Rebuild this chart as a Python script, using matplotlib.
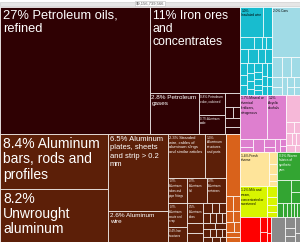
import matplotlib
matplotlib.use("Agg")
import matplotlib.pyplot as plt
from matplotlib.patches import Rectangle
from matplotlib.font_manager import FontProperties

plt.rcParams['font.family'] = 'Liberation Sans'

total_exports = "$9,156,739,566"

# sector colours
MAROON = '#2f0103'
BROWN = '#5c1f08'
ORANGE = '#d9621b'
CYAN = '#18bccf'
LIGHTBLUE = '#a0dbe6'
MAGENTA = '#de7fcf'
PINK = '#f6b8d8'
TAN = '#fee49a'
LIME = '#d8f500'
GREEN = '#33a532'
RED = '#fe0000'
GRAY = '#8a8a8a'

# shares of total exports in %
# ('h', [...]) = children left to right, ('v', [...]) = top to bottom
# leaf = share, or (share, product name)
minerals = ('h', [
    (27, "Petroleum oils, refined"),
    ('v', [
        (11, "Iron ores and concentrates"),
        ('h', [
            (2.8, "Petroleum gases"),
            ('v', [(0.8, "Petroleum coke, calcined"), (0.7, "Aluminum oxide")]),
            ('v', [0.3, ('h', [0.12, 0.1]), 0.2, 0.15]),
        ]),
    ]),
])

metals = ('h', [
    ('v', [(8.4, "Aluminum bars, rods and profiles"), (8.2, "Unwrought aluminum")]),
    ('v', [(6.5, "Aluminum plates, sheets and strip > 0.2 mm"), (2.6, "Aluminum wire")]),
    ('v', [
        ('h', [(2.3, "Stranded wire, cables of aluminum slings and similar articles"),
               (1.3, "Aluminum structures and parts")]),
        ('h', [(0.7, "Aluminum tubes and pipe fittings"), (0.7, "Aluminum foil"),
               (0.7, "Aluminum containers")]),
        ('h', [
            ('v', [(0.65, "Aluminum waste and scrap"), (0.4, "Iron structures")]),
            ('v', [(0.45, "Aluminum tubes"), 0.25, 0.2]),
            ('v', [('h', [0.12, 0.1, 0.1]), ('h', [0.1, 0.08, 0.08, 0.06]),
                   ('h', [0.1, 0.09]), ('h', [0.08, 0.07, 0.06, 0.05]),
                   ('h', [0.06, 0.05, 0.04])]),
        ]),
    ]),
])

other = ('v', [1.2, ('h', [0.15, 0.15]), ('h', [0.12, 0.1]), ('h', [0.1, 0.08]), 0.1, 0.1])

machinery = ('v', [
    ('h', [(1.0, "Insulated wire"), 0.36]),
    ('h', [0.24, 0.13, 0.07, 0.09]),
    ('h', [0.17, 0.2, 0.15, 0.14]),
    ('h', [('v', [0.12, 0.1, 0.1]), ('v', [0.1, 0.08, 0.08, 0.06]),
           ('v', [0.1, 0.08, 0.07, 0.06, 0.05]), ('v', [0.09, 0.08, 0.06]),
           ('v', [0.08, 0.06, 0.05])]),
])

transport = ('v', [
    (2.0, "Cars"),
    ('h', [0.3, 0.25, 0.25]),
    ('h', [('v', [0.15, 0.1]), 0.15, ('v', [0.1, 0.08]), ('v', [0.08, 0.06])]),
])

chemicals = ('v', [
    ('h', [(1.7, "Mineral or chemical fertilizers, nitrogenous"), (1.2, "Acyclic alcohols")]),
    ('h', [('v', [0.15, 0.1]), 0.2, ('v', [0.12, 0.08]), 0.1, ('v', [0.06, 0.05])]),
])

plastics = ('v', [0.55, ('h', [0.12, 0.1]), ('h', [0.1, 0.08, 0.06]), ('h', [0.08, 0.05])])

foodstuffs = ('h', [(1.4, "Fresh cheese"), ('v', [0.15, 0.12, 0.1, 0.06])])
vegetables = ('h', [(1.2, "Milk and cream, concentrated or sweetened"),
                    ('v', [0.15, 0.12, 0.1, 0.08])])
textiles = ('v', [
    (0.9, "Woven fabrics of synthetic yarn"),
    ('h', [0.45, ('v', [0.15, 0.15])]),
    ('h', [0.1, 0.08, 0.08, 0.07, 0.06, 0.05]),
])
instruments = ('h', [0.7, ('v', [0.15, 0.1]), ('v', [0.1, 0.06])])
misc = ('h', [0.5, ('v', [0.15, 0.12, 0.08]), ('v', [0.1, 0.06])])

root = ('h', [
    ('v', [('c', MAROON, minerals),
           ('h', [('c', BROWN, metals), ('c', ORANGE, other)])]),
    ('v', [
        ('h', [('c', CYAN, machinery), ('c', LIGHTBLUE, transport)]),
        ('h', [('c', MAGENTA, chemicals), ('c', PINK, plastics)]),
        ('h', [('v', [('c', TAN, foodstuffs), ('c', LIME, vegetables)]),
               ('c', GREEN, textiles)]),
        ('h', [('c', RED, instruments), ('c', GRAY, misc)]),
    ]),
])


def size(node):
    if isinstance(node, (int, float)):
        return node
    if node[0] in ('h', 'v'):
        return sum(size(k) for k in node[1])
    if node[0] == 'c':
        return size(node[2])
    return node[0]


leaves = []


def layout(node, x, y, w, h, color=None):
    if isinstance(node, (int, float)):
        leaves.append((x, y, w, h, color, node, ''))
    elif node[0] == 'c':
        layout(node[2], x, y, w, h, node[1])
    elif node[0] in ('h', 'v'):
        tot = size(node)
        pos = 0
        for k in node[1]:
            f = size(k) / tot
            if node[0] == 'h':
                layout(k, x + pos * w, y, f * w, h, color)
            else:
                layout(k, x, y + pos * h, w, f * h, color)
            pos += f
    else:
        leaves.append((x, y, w, h, color, node[0], node[1]))


def font_pt(v):
    if v >= 20:
        return 9.3
    if v >= 10:
        return 8.8
    if v >= 8:
        return 10
    if v >= 5:
        return 5.5
    if v >= 2.5:
        return 4.6
    if v >= 2.2:
        return 2.9
    if v >= 0.8:
        return 2.3
    return 2.0


def is_dark(c):
    r, g, b = matplotlib.colors.to_rgb(c)
    return 0.299 * r + 0.587 * g + 0.114 * b < 0.5


fig = plt.figure(figsize=(3.0, 2.42), dpi=100)
ax = fig.add_axes([0, 0, 1, 235 / 242])
ax.set_xlim(0, 1)
ax.set_ylim(1, 0)
ax.axis('off')
renderer = fig.canvas.get_renderer()

layout(root, 0, 0, 1, 1)


def wrap(text, fp, max_w):
    lines, cur = [], ''
    for word in text.split():
        trial = (cur + ' ' + word).strip()
        tw = renderer.get_text_width_height_descent(trial, fp, ismath=False)[0]
        if tw <= max_w or not cur:
            cur = trial
        else:
            lines.append(cur)
            cur = word
    lines.append(cur)
    return '\n'.join(lines)


for x, y, w, h, color, v, name in leaves:
    rect = Rectangle((x, y), w, h, facecolor=color, edgecolor=(1, 1, 1, 0.7), lw=0.7)
    ax.add_patch(rect)
    if not name:
        continue
    if v >= 10:
        label = "%d%% %s" % (round(v), name)
    else:
        label = "%.1f%% %s" % (v, name)
    fs = font_pt(v)
    fp = FontProperties(family='Liberation Sans', size=fs)
    x0, y0 = ax.transData.transform((x, y))
    x1, y1 = ax.transData.transform((x + w, y + h))
    pad = 3 if v >= 8 else 1.5
    txt = wrap(label, fp, abs(x1 - x0) - 2 * pad)
    tx, ty = ax.transData.inverted().transform((x0 + pad, y0 - pad))
    t = ax.text(tx, ty, txt, fontproperties=fp, ha='left', va='top',
                color='white' if is_dark(color) else 'black',
                linespacing=1.12 if v >= 8 else 1.3)
    t.set_clip_path(rect)

# header with the total
fig.patches.append(Rectangle((0, 1 - 5.5 / 242), 1, 4 / 242, transform=fig.transFigure,
                             facecolor='#e6e6e6', edgecolor='#c8c8c8', lw=0.4))
fig.text(0.5, 1 - 3.5 / 242, total_exports, ha='center', va='center', fontsize=3,
         color='#555555', bbox=dict(fc='white', ec='#bbbbbb', lw=0.4, pad=0.6))

fig.savefig('out.png', dpi=100)
